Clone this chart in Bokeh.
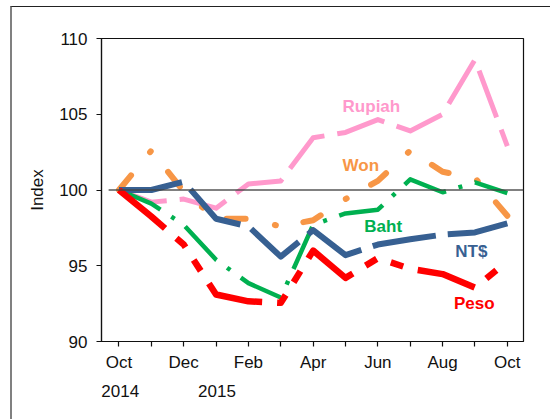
from bokeh.plotting import figure
from bokeh.models import Range1d, FixedTicker, Label, LinearAxis
from bokeh.embed import file_html
from bokeh.resources import INLINE

# ---- data ----
months = ["Oct", "Nov", "Dec", "Jan", "Feb", "Mar", "Apr", "May", "Jun", "Jul", "Aug", "Sep", "Oct"]
shown_ticks = ["Oct", "", "Dec", "", "Feb", "", "Apr", "", "Jun", "", "Aug", "", "Oct"]
years = ["2014", "2015"]
year_positions = [0.04, 3.03]
y_ticks = [90, 95, 100, 105, 110]
base_value = 100

rupiah = [100, 99.2, 99.4, 98.8, 100.4, 100.6, 103.45, 103.8, 104.65, 103.9, 105.0, 108.6, 102.9]
won = [100, 102.6, 99.9, 98.1, 98.1, 97.6, 98.0, 99.4, 100.6, 102.6, 101.2, 100.8, 98.3]
baht = [100, 99.1, 97.7, 95.4, 93.85, 92.9, 97.7, 98.45, 98.7, 100.7, 99.85, 100.5, 99.8]
ntd = [100, 100, 100.55, 98.1, 97.6, 95.6, 97.35, 95.7, 96.4, 96.75, 97.05, 97.2, 97.8]
peso = [100, 98.25, 96.4, 93.1, 92.65, 92.55, 96.0, 94.2, 95.5, 94.8, 94.45, 93.55, 95.3]

xs = list(range(len(months)))
FONT = "Liberation Sans"

p = figure(width=538, height=412, output_backend="svg", toolbar_location=None,
           x_range=Range1d(-0.54, 12.5), y_range=Range1d(90, 110),
           min_border_left=89, min_border_right=29, min_border_top=31, min_border_bottom=79)
p.styles = {"margin-left": "10px", "margin-top": "5.5px",
            "border-left": "2px solid #808080", "border-top": "1.5px solid #222222",
            "box-sizing": "content-box"}
p.grid.visible = False
p.background_fill_color = "white"
p.border_fill_color = "white"
p.outline_line_color = "#111111"
p.outline_line_width = 1.2

# axes
p.xaxis.ticker = FixedTicker(ticks=xs)
p.xaxis.major_label_overrides = {i: t for i, t in enumerate(shown_ticks)}
p.yaxis.ticker = FixedTicker(ticks=y_ticks)
for ax in (p.xaxis[0], p.yaxis[0]):
    ax.axis_line_color = "#111111"
    ax.axis_line_width = 1.2
    ax.major_tick_line_color = "#111111"
    ax.major_tick_line_width = 1.2
    ax.major_tick_in = 0
    ax.major_tick_out = 5
    ax.minor_tick_line_color = None
    ax.major_label_text_font = FONT
    ax.major_label_text_font_size = "17px"
    ax.major_label_text_color = "#111111"
p.xaxis.major_label_standoff = 6
p.yaxis.major_label_standoff = 9
p.yaxis.axis_label = "Index"
p.yaxis.axis_label_text_font = FONT
p.yaxis.axis_label_text_font_size = "17px"
p.yaxis.axis_label_text_font_style = "normal"
p.yaxis.axis_label_text_color = "#111111"
p.yaxis.axis_label_standoff = 9

# second row of the category axis: years
year_axis = LinearAxis(ticker=FixedTicker(ticks=year_positions),
                       major_label_overrides={x: t for x, t in zip(year_positions, years)},
                       axis_line_color=None, major_tick_line_color=None,
                       minor_tick_line_color=None, major_tick_in=0, major_tick_out=0,
                       major_label_standoff=10, major_label_text_font=FONT,
                       major_label_text_font_size="17px", major_label_text_color="#111111")
p.add_layout(year_axis, "below")

# series
common = dict(line_join="round")
p.line(xs, rupiah, line_color="#FF99CC", line_width=5, line_dash="50 13", **common)
p.line(xs, won, line_color="#F79646", line_width=6, line_dash="19 30 1 28", line_cap="round", **common)
p.line(xs, baht, line_color="#00B050", line_width=4.5, line_dash="46 13 4 13", **common)
p.line(xs, ntd, line_color="#376092", line_width=6, line_dash="64 12", **common)
p.line(xs, peso, line_color="#FF0000", line_width=6.5, line_dash="60 15 13 15 13 15", **common)

# reference line at 100
p.line([-0.32, 12.5], [base_value, base_value], line_color="#444444", line_width=1.3, line_alpha=0.9)

# series labels
def lab(txt, x, y, color):
    p.add_layout(Label(x=x, y=y, text=txt, text_color=color, text_font=FONT,
                       text_font_size="17px", text_font_style="bold",
                       text_align="left", text_baseline="middle"))

lab("Rupiah", 6.91, 105.5, "#FF99CC")
lab("Won", 6.91, 101.6, "#F79646")
lab("Baht", 7.58, 97.62, "#00B050")
lab("NT$", 10.39, 95.97, "#376092")
lab("Peso", 10.35, 92.53, "#FF0000")

open("out.html", "w").write(file_html(p, INLINE))
